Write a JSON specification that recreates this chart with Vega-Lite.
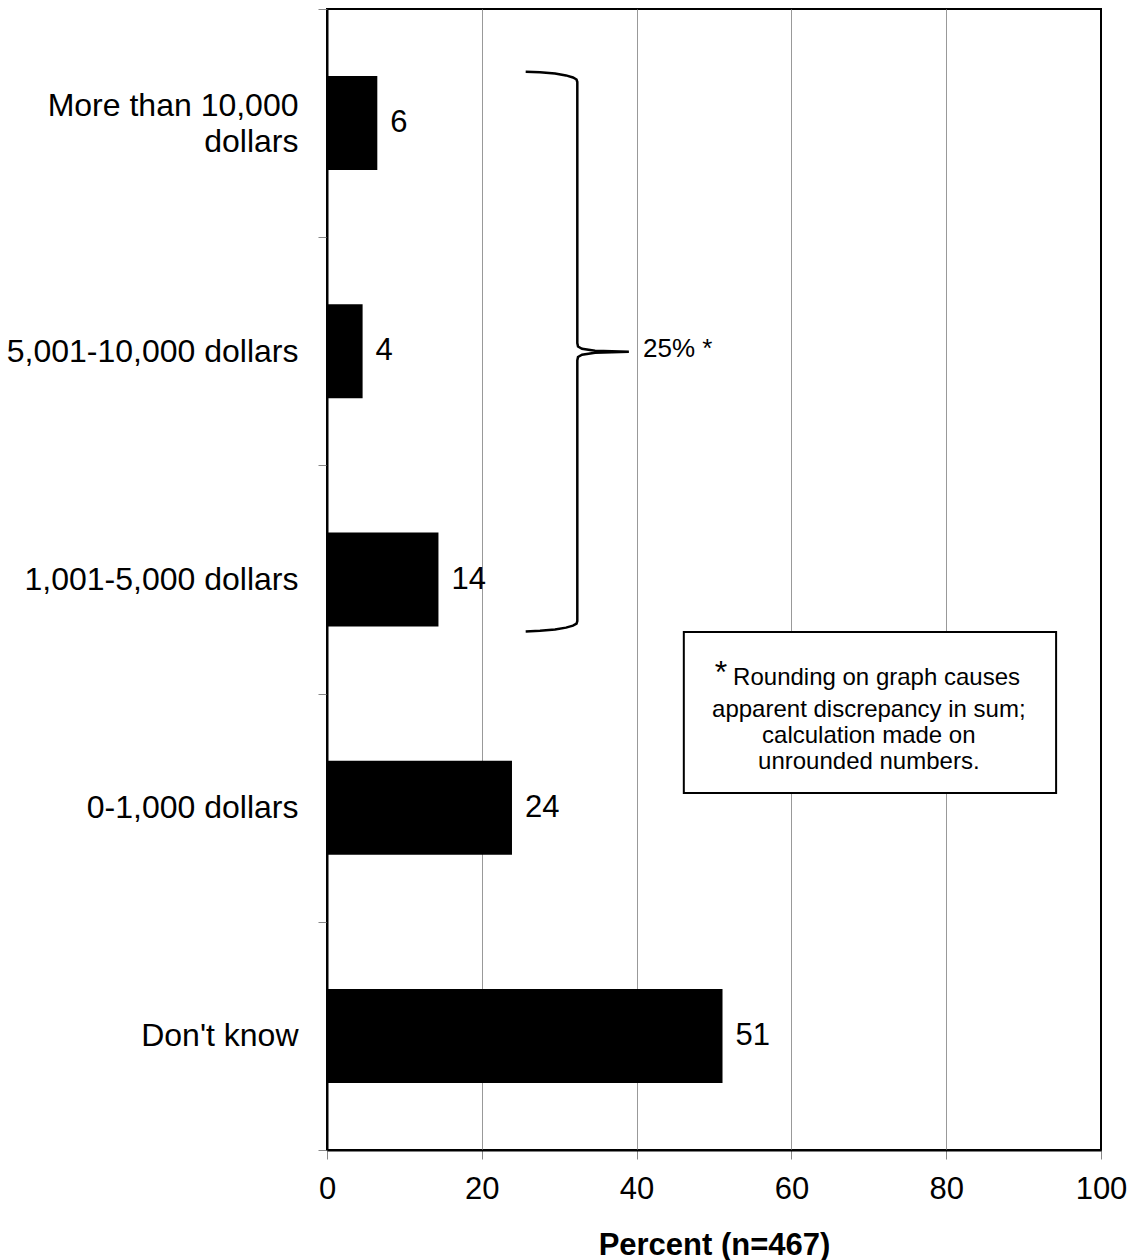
{
  "$schema": "https://vega.github.io/schema/vega-lite/v6.json",
  "width": 774,
  "height": 1141,
  "autosize": "none",
  "padding": {"left": 327, "top": 9, "right": 32, "bottom": 110},
  "background": "white",
  "config": {
    "view": {"stroke": "black", "strokeWidth": 2},
    "font": "Liberation Sans"
  },
  "resolve": {"scale": {"y": "independent"}},
  "layer": [
    {
      "data": {
        "values": [
          {"category": "More than 10,000 dollars", "percent": 6.5, "label": "6"},
          {"category": "5,001-10,000 dollars", "percent": 4.6, "label": "4"},
          {"category": "1,001-5,000 dollars", "percent": 14.4, "label": "14"},
          {"category": "0-1,000 dollars", "percent": 23.9, "label": "24"},
          {"category": "Don't know", "percent": 51.1, "label": "51"}
        ]
      },
      "encoding": {
        "y": {
          "field": "category",
          "type": "nominal",
          "sort": null,
          "scale": {"paddingInner": 0, "paddingOuter": 0},
          "axis": {
            "title": null,
            "grid": false,
            "domainColor": "black",
            "domainWidth": 2,
            "tickColor": "#888888",
            "tickSize": 9,
            "tickWidth": 1,
            "tickBand": "extent",
            "labelFontSize": 32,
            "labelColor": "black",
            "labelPadding": 20,
            "labelLineHeight": 36,
            "labelLimit": 400,
            "labelOffset": {"condition": {"test": "datum.value == 'More than 10,000 dollars'", "value": -18}, "value": 0},
            "labelExpr": "datum.label == 'More than 10,000 dollars' ? ['More than 10,000', 'dollars'] : datum.label"
          }
        },
        "x": {
          "field": "percent",
          "type": "quantitative",
          "title": "Percent (n=467)",
          "scale": {"domain": [0, 100], "nice": false},
          "axis": {
            "values": [0, 20, 40, 60, 80, 100],
            "grid": true,
            "gridColor": "#999999",
            "gridWidth": 1,
            "gridOpacity": {"condition": {"test": "datum.value == 0 || datum.value == 100", "value": 0}, "value": 1},
            "domainColor": "black",
            "domainWidth": 2,
            "tickColor": "#888888",
            "tickSize": 9,
            "tickWidth": 1,
            "labelFontSize": 31,
            "labelColor": "black",
            "labelPadding": 15,
            "labelFlush": false,
            "titleFontSize": 31,
            "titleFontWeight": "bold",
            "titleColor": "black",
            "titlePadding": 26
          }
        }
      },
      "layer": [
        {"mark": {"type": "bar", "color": "black", "height": {"band": 0.412}}},
        {
          "mark": {"type": "text", "align": "left", "baseline": "middle", "dx": 13, "fontSize": 31, "color": "black"},
          "encoding": {"text": {"field": "label"}}
        }
      ]
    },
    {
      "layer": [
        {
          "data": {
            "values": [
              {"i": 1, "bx": 25.67, "by": 0.275},
              {"i": 2, "bx": 27.52, "by": 0.277},
              {"i": 3, "bx": 29.46, "by": 0.283},
              {"i": 4, "bx": 30.88, "by": 0.291},
              {"i": 5, "bx": 31.78, "by": 0.300},
              {"i": 6, "bx": 32.24, "by": 0.309},
              {"i": 7, "bx": 32.34, "by": 0.320},
              {"i": 8, "bx": 32.34, "by": 1.464},
              {"i": 9, "bx": 32.43, "by": 1.479},
              {"i": 10, "bx": 32.95, "by": 1.489},
              {"i": 11, "bx": 34.63, "by": 1.498},
              {"i": 12, "bx": 39.0, "by": 1.502},
              {"i": 13, "bx": 34.63, "by": 1.506},
              {"i": 14, "bx": 32.95, "by": 1.515},
              {"i": 15, "bx": 32.43, "by": 1.525},
              {"i": 16, "bx": 32.34, "by": 1.540},
              {"i": 17, "bx": 32.34, "by": 2.682},
              {"i": 18, "bx": 32.24, "by": 2.693},
              {"i": 19, "bx": 31.78, "by": 2.702},
              {"i": 20, "bx": 30.88, "by": 2.711},
              {"i": 21, "bx": 29.46, "by": 2.719},
              {"i": 22, "bx": 27.52, "by": 2.725},
              {"i": 23, "bx": 25.67, "by": 2.728}
            ]
          },
          "mark": {"type": "line", "color": "black", "strokeWidth": 2.5},
          "encoding": {
            "x": {"field": "bx", "type": "quantitative", "title": "Percent (n=467)"},
            "y": {"field": "by", "type": "quantitative", "scale": {"domain": [0, 5], "reverse": true, "nice": false, "zero": false}, "axis": null},
            "order": {"field": "i", "type": "quantitative"}
          }
        },
        {
          "data": {"values": [{}]},
          "mark": {"type": "text", "align": "left", "baseline": "alphabetic", "fontSize": 26, "color": "black", "text": "25% *"},
          "encoding": {
            "x": {"datum": 40.83, "type": "quantitative", "title": "Percent (n=467)"},
            "y": {"datum": 1.524, "type": "quantitative", "axis": null}
          }
        },
        {
          "data": {"values": [{}]},
          "mark": {"type": "rect", "fill": "white", "stroke": "black", "strokeWidth": 2},
          "encoding": {
            "x": {"datum": 46.1, "type": "quantitative", "title": "Percent (n=467)"},
            "x2": {"datum": 94.2},
            "y": {"datum": 2.73, "type": "quantitative", "axis": null},
            "y2": {"datum": 3.436}
          }
        },
        {
          "data": {"values": [{}]},
          "mark": {"type": "text", "align": "center", "baseline": "alphabetic", "fontSize": 32, "color": "black", "text": "*"},
          "encoding": {
            "x": {"datum": 50.9, "type": "quantitative", "title": "Percent (n=467)"},
            "y": {"datum": 2.955, "type": "quantitative", "axis": null}
          }
        },
        {
          "data": {"values": [{}]},
          "mark": {"type": "text", "align": "center", "baseline": "alphabetic", "fontSize": 24, "color": "black", "text": "Rounding on graph causes"},
          "encoding": {
            "x": {"datum": 71.0, "type": "quantitative", "title": "Percent (n=467)"},
            "y": {"datum": 2.962, "type": "quantitative", "axis": null}
          }
        },
        {
          "data": {"values": [{}]},
          "mark": {"type": "text", "align": "center", "baseline": "alphabetic", "fontSize": 24, "lineHeight": 26.3, "color": "black", "text": ["apparent discrepancy in sum;", "calculation made on", "unrounded numbers."]},
          "encoding": {
            "x": {"datum": 70.0, "type": "quantitative", "title": "Percent (n=467)"},
            "y": {"datum": 3.101, "type": "quantitative", "axis": null}
          }
        }
      ]
    }
  ]
}
